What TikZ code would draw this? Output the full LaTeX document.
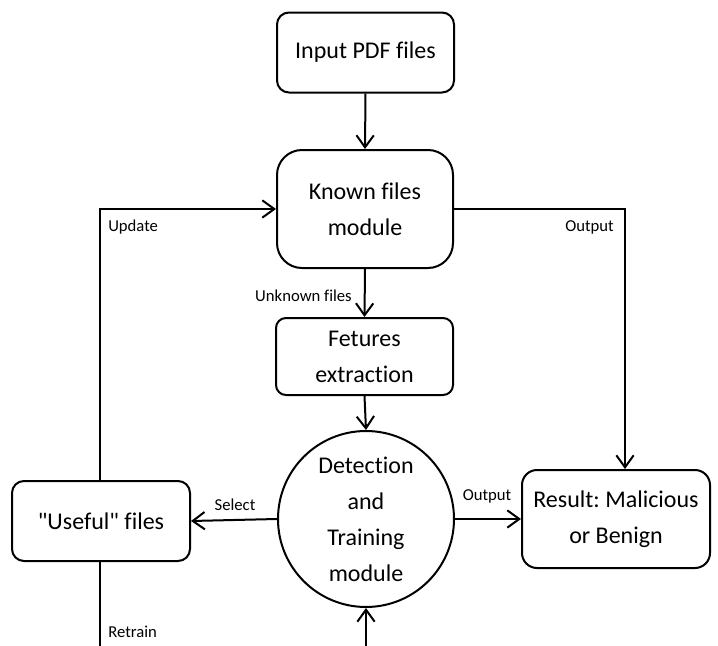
\documentclass[tikz,border=0pt]{standalone}
\usepackage{fontspec}
\setmainfont[Ligatures={NoCommon}]{Carlito}
\usetikzlibrary{arrows.meta}
\frenchspacing
\newcommand\strq{\XeTeXglyph\XeTeXcharglyph34\relax}
\begin{document}
\begin{tikzpicture}[x=0.75pt,y=-0.75pt,
  box/.style={draw, line width=1.5pt, align=center, inner sep=0pt,
    font=\fontsize{18}{27}\selectfont},
  lbl/.style={font=\fontsize{12.5}{15}\selectfont, inner sep=0pt},
  arr/.style={line width=1.5pt, -{Straight Barb[length=9pt,width=13pt,line width=1.5pt]}},
  ln/.style={line width=1.5pt}]
\useasboundingbox (0,0) rectangle (718,646);
\node[box, rounded corners=9pt, minimum width=132.75pt, minimum height=60pt] (in) at (365.5,52.5) {Input PDF files};
\node[box, rounded corners=18.75pt, minimum width=132pt, minimum height=88.5pt] (known) at (365,209) {\raisebox{-1.5pt}{Known files}\\\raisebox{-1.5pt}{module}};
\node[box, rounded corners=7.5pt, minimum width=132.75pt, minimum height=57.75pt] (feat) at (364.5,356.5) {\raisebox{-1.5pt}{Fetures}\\\raisebox{-1.5pt}{extraction}};
\node[box, circle, minimum size=132pt] (det) at (366,519) {Detection\\and\\Training\\module};
\node[box, rounded corners=9pt, minimum width=133.5pt, minimum height=60pt] (useful) at (101,521) {\strq Useful\strq{} files};
\node[box, rounded corners=11.25pt, minimum width=141pt, minimum height=73.5pt] (result) at (616,519) {\raisebox{-2pt}{Result: Malicious}\\\raisebox{-2pt}{or Benign}};
\coordinate (bot) at (366,652);
\coordinate (rbot) at (100,652);
\draw[arr] (in.south) -- (known.north);
\draw[arr] (known.south) -- (feat.north);
\draw[arr] (feat.south) -- (det.north);
\draw[arr] (det.west) -- (useful.east);
\draw[arr] (det.east) -- (result.west);
\draw[arr] (bot) -- (det.south);
\draw[arr] ([xshift=-0.75pt]useful.north) |- (known.west);
\draw[arr] (known.east) -| ([xshift=6.75pt]result.north);
\draw[ln] ([xshift=-0.75pt]useful.south) -- (rbot);
\node[lbl, anchor=west] (l1) at (108,227) {Update};
\node[lbl, anchor=west] (l2) at (565,227) {Output};
\node[lbl, anchor=east] (l3) at (352,296) {Unknown files};
\node[lbl] (l4) at (235,505) {Select};
\node[lbl] (l5) at (487,496) {Output};
\node[lbl, anchor=west] (l6) at (108,632) {Retrain};
\end{tikzpicture}
\end{document}
